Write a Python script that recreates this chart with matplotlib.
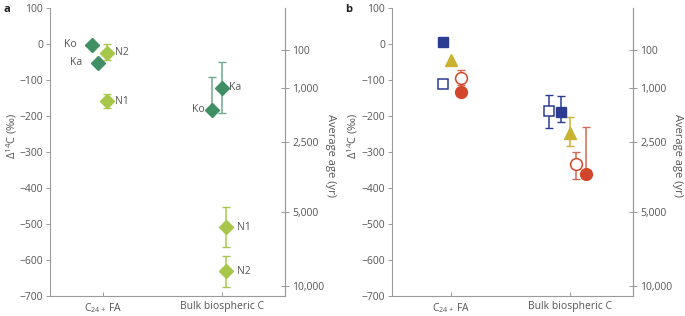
import matplotlib
matplotlib.use("Agg")
import matplotlib.pyplot as plt
import numpy as np

plt.rcParams['font.family'] = ['Open Sans', 'DejaVu Sans']
plt.rcParams['mathtext.fontset'] = 'custom'
plt.rcParams['mathtext.rm'] = 'Open Sans'
plt.rcParams['mathtext.it'] = 'Open Sans:italic'

# ---------------- data ----------------
categories = ["C$_{24+}$ FA", "Bulk biospheric C"]
age_ticks = ["100", "1,000", "2,500", "5,000", "10,000"]
age_tick_d14c = [-18, -124, -274, -468, -674]

# panel a: sample labels, category index, value, error (lower, upper)
a_names = ["Ko", "Ka", "N2", "N1", "Ka", "Ko", "N1", "N2"]
a_cat = [0, 0, 0, 0, 1, 1, 1, 1]
a_val = [-3, -54, -25, -160, -123, -184, -510, -632]
a_err_lo = [0, 0, 22, 20, 71, 0, 56, 44]
a_err_hi = [0, 0, 24, 19, 71, 91, 56, 43]
a_group = ["dark", "dark", "light", "light", "dark", "dark", "light", "light"]

# panel b: series per marker type, values at [C24+ FA, Bulk]
b_series = ["open_sq", "filled_sq", "triangle", "open_circ", "filled_circ"]
b_val = {
    "open_sq": [-113, -187],
    "filled_sq": [3, -191],
    "triangle": [-47, -248],
    "open_circ": [-95, -335],
    "filled_circ": [-134, -362],
}
b_err_lo = {
    "open_sq": [0, 47],
    "filled_sq": [0, 26],
    "triangle": [0, 38],
    "open_circ": [20, 41],
    "filled_circ": [0, 0],
}
b_err_hi = {
    "open_sq": [0, 44],
    "filled_sq": [0, 45],
    "triangle": [0, 45],
    "open_circ": [21, 33],
    "filled_circ": [0, 131],
}

# ---------------- layout / style ----------------
a_offset = [-0.092, -0.042, 0.034, 0.034, 0.0, -0.084, 0.034, 0.034]
a_lab_dx = [-11, -11, 6, 6, 5, -5, 8, 8]
b_offset = {
    "open_sq": [-0.07, -0.174],
    "filled_sq": [-0.07, -0.078],
    "triangle": [0.0, 0.0],
    "open_circ": [0.08, 0.05],
    "filled_circ": [0.08, 0.134],
}
DARK = "#3f8f63"
DARK_ERR = "#6faa8e"
LIGHT = "#a7c74b"
BLUE = "#2b3c92"
YEL = "#c8b230"
RED = "#d2472b"
RED_ERR = "#d26a52"
b_style = {
    "open_sq": dict(marker="s", mfc="white", mec=BLUE, color=BLUE, ms=7.2, mew=1.1),
    "filled_sq": dict(marker="s", mfc=BLUE, mec=BLUE, color=BLUE, ms=6.5, mew=1.0),
    "triangle": dict(marker="^", mfc=YEL, mec=YEL, color=YEL, ms=8, mew=1.0),
    "open_circ": dict(marker="o", mfc="white", mec=RED, color=RED_ERR, ms=8.5, mew=1.1),
    "filled_circ": dict(marker="o", mfc=RED, mec=RED, color=RED_ERR, ms=8.5, mew=1.0),
}
TXT = "#555555"
SPINE = "#9a9a9a"

fig = plt.figure(figsize=(6.85, 3.16), dpi=100)
ax_a = fig.add_axes([50 / 685, 1 - 295.5 / 316, 235 / 685, (295.5 - 7.5) / 316])
ax_b = fig.add_axes([392 / 685, 1 - 295.5 / 316, 241 / 685, (295.5 - 7.5) / 316])


def style_axes(ax, xlim, ylab_x, ylab2_x):
    ax.set_ylim(-700, 100)
    ax.set_xlim(*xlim)
    ax.set_yticks(np.arange(-700, 101, 100))
    ax.set_xticks([0, 1])
    ax.set_xticklabels(categories)
    ax.spines["top"].set_visible(False)
    for s in ["left", "bottom", "right"]:
        ax.spines[s].set_color(SPINE)
        ax.spines[s].set_linewidth(0.8)
    ax.tick_params(axis="y", direction="out", length=3, width=0.7, color=SPINE,
                   labelsize=7.5, labelcolor=TXT, pad=2)
    ax.tick_params(axis="x", direction="in", length=3, width=0.7, color=SPINE,
                   labelsize=7.5, labelcolor=TXT, pad=4)
    ax.set_ylabel(r"$\mathrm{\Delta}^{14}$C (‰)", fontsize=8, color=TXT,
                  va="center")
    ax.yaxis.set_label_coords(ylab_x, 0.555)
    ax2 = ax.twinx()
    ax2.set_ylim(-700, 100)
    ax2.set_yticks(age_tick_d14c)
    ax2.set_yticklabels(age_ticks)
    for s in ["top", "left", "bottom"]:
        ax2.spines[s].set_visible(False)
    ax2.spines["right"].set_color(SPINE)
    ax2.spines["right"].set_linewidth(0.8)
    ax2.tick_params(axis="y", direction="inout", length=6, width=0.7, color=SPINE,
                    labelsize=7.5, labelcolor=TXT, pad=2)
    ax2.set_ylabel("Average age (yr)", fontsize=8, color=TXT, rotation=270,
                   va="center")
    ax2.yaxis.set_label_coords(ylab2_x, 0.485)
    return ax2


style_axes(ax_a, (-0.445, 1.529), (12 - 50) / 235, (330 - 50) / 235)
style_axes(ax_b, (-0.496, 1.529), (353 - 392) / 241, (678 - 392) / 241)

# panel a
for i, name in enumerate(a_names):
    x = a_cat[i] + a_offset[i]
    dark = a_group[i] == "dark"
    col = DARK if dark else LIGHT
    ecol = DARK_ERR if dark else LIGHT
    has_err = (a_err_lo[i] + a_err_hi[i]) > 0
    if has_err:
        ax_a.errorbar([x], [a_val[i]], yerr=[[a_err_lo[i]], [a_err_hi[i]]],
                      fmt="none", ecolor=ecol, elinewidth=1.1, capsize=3.2,
                      capthick=1.0, zorder=2)
    ax_a.plot([x], [a_val[i]], marker="D", ms=7.5, color=col, mec=col, ls="none",
              zorder=3)
    ax_a.annotate(name, (x, a_val[i]), xytext=(a_lab_dx[i], 0),
                  textcoords="offset points", va="center",
                  ha="left" if a_lab_dx[i] > 0 else "right",
                  fontsize=7.5, color=TXT)

# panel b
for key in b_series:
    st = b_style[key]
    for c in range(2):
        x = c + b_offset[key][c]
        y = b_val[key][c]
        lo, hi = b_err_lo[key][c], b_err_hi[key][c]
        if lo + hi > 0:
            ax_b.errorbar([x], [y], yerr=[[lo], [hi]], fmt="none", ecolor=st["color"],
                          elinewidth=1.1, capsize=3.2, capthick=1.0, zorder=2)
        ax_b.plot([x], [y], marker=st["marker"], ms=st["ms"], mfc=st["mfc"],
                  mec=st["mec"], mew=st["mew"], ls="none", zorder=3)

fig.text(3 / 685, 1 - 10 / 316, "a", fontsize=8, fontweight="bold", color="#222222",
         va="center")
fig.text(345 / 685, 1 - 10 / 316, "b", fontsize=8, fontweight="bold", color="#222222",
         va="center")

fig.savefig("out.png", dpi=100)
